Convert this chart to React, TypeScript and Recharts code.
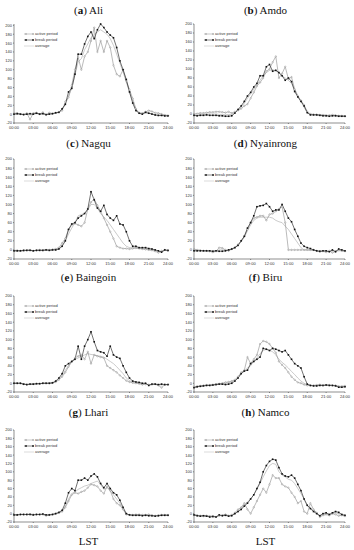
import React from "react";
import { LineChart, Line, XAxis, YAxis, Legend } from "recharts";

// half-hourly local solar time, 00:00 .. 24:00
const halfHours = Array.from({ length: 49 }, (_, i) => i * 0.5);
const hourTicks = [0, 3, 6, 9, 12, 15, 18, 21, 24];
const yTicks = [-20, 0, 20, 40, 60, 80, 100, 120, 140, 160, 180, 200];
const seriesNames = ["active period", "break period", "average"];

// (a) Ali
const aliActive = [2,2,0,-1,2,-12,2,3,0,4,-2,3,1,3,5, 8,28,38,65,100,128,100,130,140,165, 195,140,165,140,165,150,110,90,85,100, 75,55,35,12,3,2,5,8,6,3,2,0,-2,-3];
const aliBreak = [0,1,0,-1,0,1,0,2,0,1,-1,0,1,3,4, 12,22,50,58,90,135,135,158,175,185, 170,190,203,195,185,178,172,150,120,100, 78,50,25,8,2,0,4,2,0,-2,-3,-3,-4,-4];
const aliAverage = [0,0,0,-1,0,-2,0,1,0,1,-1,0,1,2,4, 10,22,40,58,88,118,125,145,158,172, 180,185,190,185,180,170,155,135,115,95, 72,50,28,10,2,0,3,2,1,-1,-2,-3,-3,-4];

// (b) Amdo
const amdoActive = [0,1,2,2,3,4,4,5,5,4,3,5,2,5,8, 12,18,22,35,48,62,70,80,95,100, 115,128,80,90,105,78,82,55,40,30, 20,5,0,-1,-1,-2,-2,-3,-3,-2,-3,-4,-4,-5];
const amdoBreak = [-3,-4,-3,-3,-2,-3,-3,-3,-4,-4,-5,-5,-4,2,10, 18,28,40,48,60,68,85,85,105,110, 95,97,92,85,75,80,72,50,38,28, 18,3,-2,-2,-2,-3,-4,-4,-5,-4,-4,-5,-5,-5];
const amdoAverage = [-2,-2,-1,-1,0,0,0,0,-1,-1,-2,-1,-1,3,9, 15,24,35,45,55,65,75,85,92,97, 98,97,92,85,80,75,68,55,40,28, 15,3,-1,-1,-2,-2,-3,-3,-4,-3,-3,-4,-4,-5];

// (c) Nagqu
const nagquActive = [-1,-1,-2,-2,-1,0,-2,-1,0,-1,0,0,1,2,5, 15,25,45,55,58,55,52,60,90,105, 112,98,85,70,55,40,25,8,5,3, 3,2,3,4,3,2,1,0,-1,-3,-6,-2,0,-2];
const nagquBreak = [-2,-2,-2,-1,-1,-1,-2,-1,-1,-1,0,-1,0,0,2, 8,20,45,57,60,70,75,80,90,128, 110,92,85,98,78,70,65,75,57,55, 40,20,8,8,5,5,5,3,2,0,-2,-5,0,-1];
const nagquAverage = [-2,-2,-2,-1,-1,-1,-2,-1,-1,-1,0,-1,0,1,3, 10,20,35,48,60,75,78,80,88,100, 100,92,80,72,65,55,45,35,25,15, 8,5,5,5,4,3,3,2,1,-1,-3,-4,-1,-2];

// (d) Nyainrong
const nyainrongActive = [2,0,-1,-2,-2,-3,-5,-3,5,4,0,-2,2,5,12, 20,30,45,60,70,72,75,75,65,78, 80,85,90,95,60,0,0,0,0,0, 0,0,0,0,-2,-4,-3,-5,-2,-6,-3,0,-2,-3];
const nyainrongBreak = [-2,-2,-2,-2,-2,-2,-3,-2,-3,-3,-2,0,2,5,10, 20,30,48,60,75,95,97,98,102,95, 85,88,88,100,85,70,62,45,30,15, 8,5,3,0,-2,-3,-2,-2,-4,0,-4,2,0,-2];
const nyainrongAverage = [0,-1,-1,-2,-2,-2,-3,-2,0,0,-1,-1,2,5,10, 18,28,42,55,65,70,72,72,72,72, 70,65,62,60,52,45,35,25,15,5, 0,0,-1,-1,-2,-3,-3,-3,-3,-2,-3,-2,-2,-3];

// (e) Baingoin
const baingoinActive = [0,0,0,-2,-3,-2,-2,-1,-1,0,0,0,1,3,8, 15,25,38,50,58,62,65,55,72,45, 65,62,60,58,40,35,30,25,18,12, 6,3,1,0,-1,-3,-2,-3,-3,-2,-5,-10,-3,-3];
const baingoinBreak = [0,0,0,-2,-3,-2,-2,-1,-1,0,0,0,1,5,12, 22,40,45,50,55,85,55,85,100,118, 95,75,72,70,62,85,65,60,57,40, 25,12,5,3,2,0,0,-5,-2,-2,-3,-2,-3,-3];
const baingoinAverage = [0,0,0,-2,-3,-2,-2,-1,-1,0,0,0,1,4,10, 18,30,40,48,55,58,62,65,68,66, 65,63,62,60,55,50,45,38,30,22, 12,6,3,2,1,-1,-1,-4,-2,-2,-3,-4,-3,-3];

// (f) Biru
const biruActive = [-8,-7,-6,-5,-4,-4,-3,-2,-1,0,2,3, 5,8,15,25,30,60,45,55,65,90,97,95, 90,80,70,50,42,35,25,15,8,2,0,-3, -5,-5,-5,-4,-3,-5,-4,-4,-5,-5,-7,-7,-6];
const biruBreak = [-10,-8,-7,-6,-5,-5,-4,-3,-2,-2,-3,-2, 0,5,12,22,28,30,45,50,55,60,80,78, 75,80,78,75,72,75,65,55,45,40,35,15, -2,-5,-6,-6,-5,-5,-4,-5,-5,-6,-9,-9,-8];
const biruAverage = [-9,-8,-7,-6,-5,-5,-4,-3,-2,-1,0,1, 3,7,13,22,28,35,40,50,58,68,75,78, 76,72,65,55,48,42,35,27,20,12,5,0, -3,-5,-5,-5,-4,-5,-4,-4,-5,-5,-8,-8,-7];

// (g) Lhari
const lhariActive = [-2,-3,-2,-2,-2,-1,-2,-2,-2,-2,-5,-3, -2,0,2,5,15,30,45,50,48,52,55,62, 70,68,65,55,48,65,55,35,25,20,10,-2, -3,-3,-2,-2,-3,-3,-2,-4,-5,-4,-3,-3,-3];
const lhariBreak = [-3,-3,-2,-2,-2,-2,-3,-2,-2,-1,-3,-3, -2,0,3,8,25,50,60,55,80,80,85,80, 90,95,88,72,62,72,60,50,45,32,15,0, -3,-4,-4,-4,-5,-4,-5,-5,-6,-5,-4,-4,-4];
const lhariAverage = [-3,-3,-2,-2,-2,-2,-3,-2,-2,-2,-4,-3, -2,0,2,6,18,35,48,52,58,62,66,68, 72,75,78,70,58,62,55,45,35,25,12,0, -3,-4,-3,-3,-4,-4,-4,-5,-5,-5,-4,-4,-4];

// (h) Namco
const namcoActive = [-2,-4,-5,-6,-5,-6,-6,-8,-5,-4,-2,-5, -3,2,10,15,25,10,0,15,30,45,60,50, 70,92,85,85,70,65,62,50,40,25,30,5, 0,25,10,2,-8,-4,-2,-4,0,-2,-5,-4,-6];
const namcoBreak = [-3,-5,-6,-5,-6,-8,-7,-8,-3,-5,-4,-6, -5,0,5,10,18,25,35,45,60,75,100,115, 125,130,128,110,95,90,88,92,85,70,55,35, 20,12,5,0,-5,0,2,-2,2,5,3,-2,-4];
const namcoAverage = [-3,-5,-5,-5,-6,-7,-6,-7,-4,-4,-3,-5, -4,0,6,12,22,28,35,45,58,72,88,102, 115,120,118,100,92,88,82,80,72,60,48,35, 18,15,6,2,-5,-2,0,-3,1,2,0,-3,-5];

const stations = [
  { tag: "a", name: "Ali", active: aliActive, brk: aliBreak, avg: aliAverage },
  { tag: "b", name: "Amdo", active: amdoActive, brk: amdoBreak, avg: amdoAverage },
  { tag: "c", name: "Nagqu", active: nagquActive, brk: nagquBreak, avg: nagquAverage },
  { tag: "d", name: "Nyainrong", active: nyainrongActive, brk: nyainrongBreak, avg: nyainrongAverage },
  { tag: "e", name: "Baingoin", active: baingoinActive, brk: baingoinBreak, avg: baingoinAverage },
  { tag: "f", name: "Biru", active: biruActive, brk: biruBreak, avg: biruAverage },
  { tag: "g", name: "Lhari", active: lhariActive, brk: lhariBreak, avg: lhariAverage },
  { tag: "h", name: "Namco", active: namcoActive, brk: namcoBreak, avg: namcoAverage },
];

const colLeft = [0, 177];
const yAxisW = [14, 17];
const frameTop = [24, 159, 296, 430];
const plotH = [99, 100, 96, 92];
const titleY = [10, 143, 277, 412];

const ACTIVE = "#8c8c8c";
const BREAK = "#111";
const AVG = "#b4b4b4";
const axisFont = { fontSize: 4, fill: "#333", fontFamily: "Liberation Sans, Arial, sans-serif" };

const fmtHour = (v: number) => `${String(v).padStart(2, "0")}:00`;

const SquareDot = (props: any) => {
  const { cx, cy, index } = props;
  if (cx == null || cy == null) return <g key={index} />;
  return <rect key={index} x={cx - 0.8} y={cy - 0.8} width={1.6} height={1.6} fill={BREAK} />;
};

const SmallDot = (props: any) => {
  const { cx, cy, index } = props;
  if (cx == null || cy == null) return <g key={index} />;
  return <circle key={index} cx={cx} cy={cy} r={0.7} fill="#fff" stroke={ACTIVE} strokeWidth={0.5} />;
};

const LegendBox = () => (
  <svg width={42} height={18} style={{ display: "block" }}>
    <line x1={0} x2={10} y1={3} y2={3} stroke={ACTIVE} strokeWidth={0.5} />
    <circle cx={2} cy={3} r={0.7} fill="#fff" stroke={ACTIVE} strokeWidth={0.5} />
    <circle cx={9} cy={3} r={0.7} fill="#fff" stroke={ACTIVE} strokeWidth={0.5} />
    <text x={11} y={4.4} style={axisFont}>{seriesNames[0]}</text>
    <line x1={0} x2={10} y1={9} y2={9} stroke={BREAK} strokeWidth={0.5} />
    <rect x={1.2} y={8.2} width={1.6} height={1.6} fill={BREAK} />
    <rect x={8.2} y={8.2} width={1.6} height={1.6} fill={BREAK} />
    <text x={11} y={10.4} style={axisFont}>{seriesNames[1]}</text>
    <line x1={0} x2={10} y1={15} y2={15} stroke={AVG} strokeWidth={0.5} />
    <text x={11} y={16.4} style={axisFont}>{seriesNames[2]}</text>
  </svg>
);

const Panel = ({ st, idx }: any) => {
  const col = idx % 2;
  const row = Math.floor(idx / 2);
  const data = halfHours.map((t, i) => ({
    t,
    active: st.active[i],
    brk: st.brk[i],
    avg: st.avg[i],
  }));
  const top = frameTop[row] - 2;
  return (
    <>
      <div
        style={{
          position: "absolute",
          left: colLeft[col],
          top: titleY[row] - 7,
          width: 177,
          textAlign: "center",
          fontFamily: "Liberation Serif, serif",
          fontSize: 11,
          lineHeight: "14px",
          color: "#111",
        }}
      >
        (<b>{st.tag}</b>) {st.name}
      </div>
      <div style={{ position: "absolute", left: colLeft[col], top }}>
        <LineChart
          width={177}
          height={2 + plotH[row] + 11}
          data={data}
          margin={{ top: 2, right: 9, bottom: 0, left: 0 }}
        >
          <XAxis
            dataKey="t"
            type="number"
            domain={[0, 24]}
            ticks={hourTicks}
            tickFormatter={fmtHour}
            tick={axisFont}
            tickSize={1}
            tickMargin={2.5}
            height={11}
            stroke="#444"
            strokeWidth={0.6}
            interval={0}
          />
          <XAxis xAxisId="top" orientation="top" dataKey="t" type="number" domain={[0, 24]} tick={false} tickLine={false} height={0} stroke="#444" strokeWidth={0.6} />
          <YAxis
            domain={[-20, 200]}
            ticks={yTicks}
            tick={axisFont}
            tickSize={1}
            tickMargin={1}
            width={yAxisW[col]}
            stroke="#444"
            strokeWidth={0.6}
            interval={0}
          />
          <YAxis yAxisId="right" orientation="right" domain={[-20, 200]} tick={false} tickLine={false} width={0} stroke="#444" strokeWidth={0.6} />
          <Legend
            layout="horizontal"
            verticalAlign="middle"
            align="center"
            wrapperStyle={{ left: yAxisW[col] + 10, top: 9, width: "auto" }}
            content={() => <LegendBox />}
          />
          <Line dataKey="avg" name={seriesNames[2]} stroke={AVG} strokeWidth={0.7} dot={false} isAnimationActive={false} />
          <Line dataKey="active" name={seriesNames[0]} stroke={ACTIVE} strokeWidth={0.6} dot={SmallDot} isAnimationActive={false} />
          <Line dataKey="brk" name={seriesNames[1]} stroke={BREAK} strokeWidth={0.6} dot={SquareDot} isAnimationActive={false} />
        </LineChart>
      </div>
    </>
  );
};

export default function App() {
  return (
    <div style={{ position: "absolute", left: 0, top: 0, width: 354, height: 550, background: "#fff", overflow: "hidden" }}>
      {stations.map((st, i) => (
        <Panel key={st.tag} st={st} idx={i} />
      ))}
      {colLeft.map((x) => (
        <div
          key={x}
          style={{
            position: "absolute",
            left: x,
            top: 535,
            width: 177,
            textAlign: "center",
            fontFamily: "Liberation Serif, serif",
            fontSize: 11,
            lineHeight: "13px",
            color: "#111",
          }}
        >
          LST
        </div>
      ))}
    </div>
  );
}
